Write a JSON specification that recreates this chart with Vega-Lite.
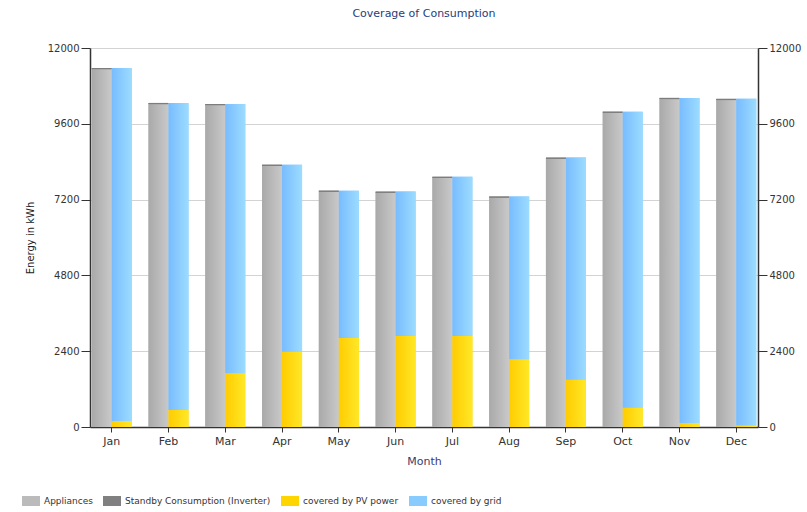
{
  "$schema": "https://vega.github.io/schema/vega-lite/v6.json",
  "width": 668,
  "height": 379,
  "autosize": {"type": "none"},
  "padding": {"left": 90, "top": 48, "right": 49, "bottom": 85},
  "background": "white",
  "title": {
    "text": "Coverage of Consumption",
    "font": "DejaVu Sans",
    "fontSize": 11,
    "fontWeight": "normal",
    "color": "#1f3d7a",
    "anchor": "middle",
    "baseline": "bottom",
    "offset": 13
  },
  "config": {
    "view": {"stroke": null},
    "font": "DejaVu Sans",
    "axis": {
      "labelFont": "DejaVu Sans",
      "labelFontSize": 10,
      "labelColor": "#333333",
      "titleFont": "DejaVu Sans",
      "titleFontSize": 10,
      "titleFontWeight": "normal",
      "domainColor": "#333333",
      "tickColor": "#333333",
      "gridColor": "#d3d3d3"
    }
  },
  "data": {
    "values": [
      {"month": "Jan", "series": "Appliances", "side": "L", "order": 1, "value": 11327},
      {"month": "Jan", "series": "Standby Consumption (Inverter)", "side": "L", "order": 2, "value": 40},
      {"month": "Jan", "series": "covered by PV power", "side": "R", "order": 3, "value": 190},
      {"month": "Jan", "series": "covered by grid", "side": "R", "order": 4, "value": 11177},
      {"month": "Feb", "series": "Appliances", "side": "L", "order": 1, "value": 10220},
      {"month": "Feb", "series": "Standby Consumption (Inverter)", "side": "L", "order": 2, "value": 40},
      {"month": "Feb", "series": "covered by PV power", "side": "R", "order": 3, "value": 537},
      {"month": "Feb", "series": "covered by grid", "side": "R", "order": 4, "value": 9723},
      {"month": "Mar", "series": "Appliances", "side": "L", "order": 1, "value": 10185},
      {"month": "Mar", "series": "Standby Consumption (Inverter)", "side": "L", "order": 2, "value": 40},
      {"month": "Mar", "series": "covered by PV power", "side": "R", "order": 3, "value": 1705},
      {"month": "Mar", "series": "covered by grid", "side": "R", "order": 4, "value": 8520},
      {"month": "Apr", "series": "Appliances", "side": "L", "order": 1, "value": 8265},
      {"month": "Apr", "series": "Standby Consumption (Inverter)", "side": "L", "order": 2, "value": 40},
      {"month": "Apr", "series": "covered by PV power", "side": "R", "order": 3, "value": 2380},
      {"month": "Apr", "series": "covered by grid", "side": "R", "order": 4, "value": 5925},
      {"month": "May", "series": "Appliances", "side": "L", "order": 1, "value": 7444},
      {"month": "May", "series": "Standby Consumption (Inverter)", "side": "L", "order": 2, "value": 40},
      {"month": "May", "series": "covered by PV power", "side": "R", "order": 3, "value": 2820},
      {"month": "May", "series": "covered by grid", "side": "R", "order": 4, "value": 4664},
      {"month": "Jun", "series": "Appliances", "side": "L", "order": 1, "value": 7413},
      {"month": "Jun", "series": "Standby Consumption (Inverter)", "side": "L", "order": 2, "value": 40},
      {"month": "Jun", "series": "covered by PV power", "side": "R", "order": 3, "value": 2885},
      {"month": "Jun", "series": "covered by grid", "side": "R", "order": 4, "value": 4568},
      {"month": "Jul", "series": "Appliances", "side": "L", "order": 1, "value": 7886},
      {"month": "Jul", "series": "Standby Consumption (Inverter)", "side": "L", "order": 2, "value": 40},
      {"month": "Jul", "series": "covered by PV power", "side": "R", "order": 3, "value": 2885},
      {"month": "Jul", "series": "covered by grid", "side": "R", "order": 4, "value": 5041},
      {"month": "Aug", "series": "Appliances", "side": "L", "order": 1, "value": 7255},
      {"month": "Aug", "series": "Standby Consumption (Inverter)", "side": "L", "order": 2, "value": 40},
      {"month": "Aug", "series": "covered by PV power", "side": "R", "order": 3, "value": 2147},
      {"month": "Aug", "series": "covered by grid", "side": "R", "order": 4, "value": 5148},
      {"month": "Sep", "series": "Appliances", "side": "L", "order": 1, "value": 8490},
      {"month": "Sep", "series": "Standby Consumption (Inverter)", "side": "L", "order": 2, "value": 40},
      {"month": "Sep", "series": "covered by PV power", "side": "R", "order": 3, "value": 1500},
      {"month": "Sep", "series": "covered by grid", "side": "R", "order": 4, "value": 7030},
      {"month": "Oct", "series": "Appliances", "side": "L", "order": 1, "value": 9945},
      {"month": "Oct", "series": "Standby Consumption (Inverter)", "side": "L", "order": 2, "value": 40},
      {"month": "Oct", "series": "covered by PV power", "side": "R", "order": 3, "value": 611},
      {"month": "Oct", "series": "covered by grid", "side": "R", "order": 4, "value": 9374},
      {"month": "Nov", "series": "Appliances", "side": "L", "order": 1, "value": 10380},
      {"month": "Nov", "series": "Standby Consumption (Inverter)", "side": "L", "order": 2, "value": 40},
      {"month": "Nov", "series": "covered by PV power", "side": "R", "order": 3, "value": 126},
      {"month": "Nov", "series": "covered by grid", "side": "R", "order": 4, "value": 10294},
      {"month": "Dec", "series": "Appliances", "side": "L", "order": 1, "value": 10350},
      {"month": "Dec", "series": "Standby Consumption (Inverter)", "side": "L", "order": 2, "value": 40},
      {"month": "Dec", "series": "covered by PV power", "side": "R", "order": 3, "value": 45},
      {"month": "Dec", "series": "covered by grid", "side": "R", "order": 4, "value": 10345}
    ]
  },
  "transform": [
    {
      "stack": "value",
      "groupby": ["month", "side"],
      "sort": [{"field": "order", "order": "ascending"}],
      "as": ["v0", "v1"]
    }
  ],
  "encoding": {
    "x": {
      "field": "month",
      "type": "ordinal",
      "sort": ["Jan", "Feb", "Mar", "Apr", "May", "Jun", "Jul", "Aug", "Sep", "Oct", "Nov", "Dec"],
      "scale": {"paddingInner": 0.295, "paddingOuter": 0.03},
      "axis": {
        "title": "Month",
        "titleColor": "#3b3b6b",
        "titleFontSize": 11,
        "titlePadding": 9,
        "labelAngle": 0,
        "labelPadding": 3,
        "labelFontSize": 11,
        "tickSize": 5,
        "domainWidth": 1.5
      }
    },
    "xOffset": {"field": "side", "type": "nominal", "scale": {"paddingInner": 0, "paddingOuter": 0}},
    "y2": {"field": "v0"}
  },
  "layer": [
    {
      "mark": {"type": "bar"},
      "encoding": {
        "y": {
          "field": "v1",
          "type": "quantitative",
          "scale": {"domain": [0, 12000], "nice": false},
          "axis": {
            "title": "Energy in kWh",
            "titleColor": "#222222",
            "titlePadding": 12,
            "values": [0, 2400, 4800, 7200, 9600, 12000],
            "format": "d",
            "tickSize": 9,
            "labelPadding": 2,
            "domainWidth": 1.5,
            "grid": true
          }
        },
        "color": {
          "field": "series",
          "type": "nominal",
          "scale": {
            "domain": ["Appliances", "Standby Consumption (Inverter)", "covered by PV power", "covered by grid"],
            "range": ["#bbbbbb", "#808080", "#ffd500", "#88ccff"]
          },
          "legend": {
            "title": null,
            "orient": "none",
            "direction": "horizontal",
            "columns": 4,
            "legendX": -69,
            "legendY": 443,
            "symbolType": "M-0.9,-0.5h1.8v1h-1.8z",
            "symbolSize": 400,
            "symbolStrokeWidth": 0,
            "labelOffset": 3,
            "labelLimit": 300,
            "columnPadding": 9,
            "labelFont": "DejaVu Sans",
            "labelFontSize": 9,
            "labelColor": "#333333"
          }
        }
      }
    },
    {
      "transform": [{"filter": "datum.series === 'Appliances'"}],
      "mark": {
        "type": "bar",
        "color": {
          "gradient": "linear", "x1": 0, "y1": 0, "x2": 1, "y2": 0,
          "stops": [{"offset": 0, "color": "#a9a9a9"}, {"offset": 1, "color": "#c9c9c9"}]
        }
      },
      "encoding": {"y": {"field": "v1", "type": "quantitative", "axis": null}}
    },
    {
      "transform": [{"filter": "datum.series === 'Standby Consumption (Inverter)'"}],
      "mark": {"type": "bar", "color": "#7d7d7d"},
      "encoding": {"y": {"field": "v1", "type": "quantitative", "axis": null}}
    },
    {
      "transform": [{"filter": "datum.series === 'covered by PV power'"}],
      "mark": {
        "type": "bar",
        "color": {
          "gradient": "linear", "x1": 0, "y1": 0, "x2": 1, "y2": 0,
          "stops": [{"offset": 0, "color": "#ffcc00"}, {"offset": 1, "color": "#ffe828"}]
        }
      },
      "encoding": {"y": {"field": "v1", "type": "quantitative", "axis": null}}
    },
    {
      "transform": [{"filter": "datum.series === 'covered by grid'"}],
      "mark": {
        "type": "bar",
        "color": {
          "gradient": "linear", "x1": 0, "y1": 0, "x2": 1, "y2": 0,
          "stops": [{"offset": 0, "color": "#78bcff"}, {"offset": 1, "color": "#9cdcff"}]
        }
      },
      "encoding": {
        "y": {
          "field": "v1",
          "type": "quantitative",
          "axis": {
            "orient": "right",
            "title": null,
            "values": [0, 2400, 4800, 7200, 9600, 12000],
            "format": "d",
            "tickSize": 9,
            "labelPadding": 2,
            "domainWidth": 1.5,
            "grid": false
          }
        }
      }
    }
  ],
  "resolve": {"axis": {"y": "independent"}}
}
